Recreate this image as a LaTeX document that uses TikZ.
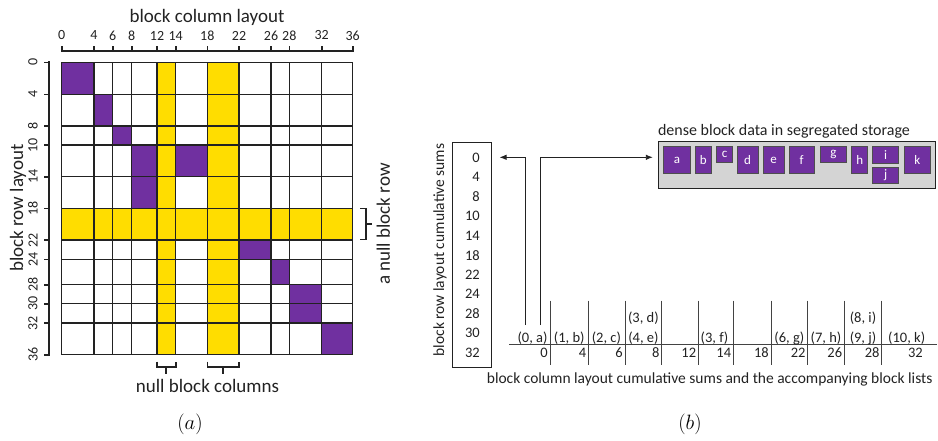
\documentclass[tikz,border=0pt]{standalone}
\usepackage{fontspec}
\setmainfont{Carlito}
\usetikzlibrary{arrows.meta}
\definecolor{purp}{HTML}{7030A0}
\definecolor{yel}{HTML}{FFDD00}
\definecolor{boxgray}{HTML}{D4D4D4}
\definecolor{ink}{HTML}{222222}
\begin{document}
\begin{tikzpicture}[x=1pt,y=-1pt,
  gridline/.style={draw=ink, line width=1.1pt},
  axisline/.style={draw=ink, line width=2pt},
  brack/.style={draw=ink, line width=1.6pt},
  thinline/.style={draw=ink!85, line width=0.9pt},
  purpcell/.style={fill=purp},
  yelcell/.style={fill=yel},
  ticklab/.style={font=\fontsize{14}{16}\selectfont, inner sep=0pt, text=ink},
  biglab/.style={font=\fontsize{19}{22}\selectfont, inner sep=0pt, text=ink},
  midlab/.style={font=\fontsize{15.5}{18}\selectfont, inner sep=0pt, text=ink},
  numlab/.style={font=\fontsize{14.5}{17}\selectfont, inner sep=0pt, text=ink},
  blk/.style={draw=ink!80, line width=0.8pt, fill=purp, text=white, font=\fontsize{13}{15}\selectfont, inner sep=0pt},
  arr/.style={draw=ink, line width=0.9pt, -{Latex[length=7pt,width=5.5pt]}},
  caplab/.style={font=\fontsize{20}{24}\selectfont, inner sep=0pt},
]
\useasboundingbox (0,0) rectangle (938,440);

% ---------- (a) matrix ----------
% yellow null column / row
\fill[yelcell] (157,62.3) rectangle (175.7,354.7);
\fill[yelcell] (207.3,62.3) rectangle (239,354.7);
\fill[yelcell] (61.7,208.3) rectangle (352.7,240);
% purple dense blocks
\fill[purpcell] (61.7,62.3) rectangle (94,94.3);
\fill[purpcell] (94,94.3) rectangle (112.7,126);
\fill[purpcell] (112.7,126) rectangle (131.7,145);
\fill[purpcell] (131.7,145) rectangle (157,176.7);
\fill[purpcell] (131.7,176.7) rectangle (157,208.3);
\fill[purpcell] (175.7,145) rectangle (207.3,176.7);
\fill[purpcell] (239,240) rectangle (271,259.3);
\fill[purpcell] (271,259.3) rectangle (289.3,284.7);
\fill[purpcell] (289.3,284.7) rectangle (321.7,303.7);
\fill[purpcell] (289.3,303.7) rectangle (321.7,323);
\fill[purpcell] (321.7,323) rectangle (352.7,354.7);
% grid
\foreach \x in {61.7,94,112.7,131.7,157,175.7,207.3,239,271,289.3,321.7,352.7}
  \draw[gridline] (\x,62.3) -- (\x,354.7);
\foreach \y in {62.3,94.3,126,145,176.7,208.3,240,259.3,284.7,303.7,323,354.7}
  \draw[gridline] (61.7,\y) -- (352.7,\y);

% top axis
\draw[axisline, line cap=rect] (61.7,50.7) -- (352.7,50.7);
\foreach \x/\l in {61.7/0,94/4,112.7/6,131.7/8,157/12,175.7/14,207.3/18,239/22,271/26,289.3/28,321.7/32,352.7/36}{
  \draw[axisline, line width=1.6pt] (\x,46.3) -- (\x,50.7);
  \node[ticklab] (ct\l) at (\x,35.5) {\l};
}
\node[biglab] (collay) at (207,17) {block column layout};

% left axis
\draw[axisline, line cap=rect] (49,62.3) -- (49,354.7);
\foreach \y/\l in {62.3/0,94.3/4,126/8,145/10,176.7/14,208.3/18,240/22,259.3/24,284.7/28,303.7/30,323/32,354.7/36}{
  \draw[axisline, line width=1.6pt] (44.3,\y) -- (49,\y);
  \node[ticklab, rotate=90] (rt\l) at (33,\y) {\l};
}
\node[biglab, rotate=90] (rowlay) at (18,208) {block row layout};

% null block column brackets
\draw[brack] (156.7,361.7) -- (156.7,366.7) -- (175.7,366.7) -- (175.7,361.7);
\draw[brack] (166.2,366.7) -- (166.2,373.5);
\draw[brack] (207.3,361.7) -- (207.3,366.7) -- (239,366.7) -- (239,361.7);
\draw[brack] (223.2,366.7) -- (223.2,373.5);
\node[biglab] (nbc) at (207.5,386) {null block columns};

% null block row bracket
\draw[brack] (360,208.3) -- (366,208.3) -- (366,239.3) -- (360,239.3);
\draw[brack] (366,224) -- (371.7,224);
\node[biglab, rotate=90] (nbr) at (383.3,224) {a null block row};

\node[caplab] (capa) at (190,424) {$(a)$};
\node[caplab] (capb) at (690,424) {$(b)$};

% ---------- (b) storage ----------
\node[draw=ink, line width=1pt, minimum width=38.7pt, minimum height=225pt, inner sep=0pt] (rowbox) at (471.65,254.8) {};
\foreach \v [count=\i from 0] in {0,4,8,10,14,18,22,24,28,30,32}
  \node[numlab, anchor=east] (rs\i) at (480,{157.7+19.5*\i}) {\v};
\node[midlab, rotate=90] (rowcs) at (440,250) {block row layout cumulative sums};

\node[draw=ink, line width=1pt, fill=boxgray, minimum width=276.7pt, minimum height=46.6pt, inner sep=0pt] (store) at (796.65,165) {};
\node[midlab, font=\fontsize{16}{19}\selectfont] (storet) at (784,131.7) {dense block data in segregated storage};

\node[blk, minimum width=27.4pt, minimum height=26.6pt] (ba) at (677,160) {a};
\node[blk, minimum width=16.7pt, minimum height=26.6pt] (bb) at (703.35,160) {b};
\node[blk, minimum width=16pt, minimum height=16pt] (bc) at (724.7,154.7) {c};
\node[blk, minimum width=20.7pt, minimum height=26.6pt] (bd) at (747.65,160) {d};
\node[blk, minimum width=20.7pt, minimum height=26.6pt] (be) at (773.65,160) {e};
\node[blk, minimum width=24.7pt, minimum height=26.6pt] (bf) at (801.65,160) {f};
\node[blk, minimum width=26.7pt, minimum height=16pt] (bg) at (833.35,154.7) {g};
\node[blk, minimum width=16pt, minimum height=26.6pt] (bh) at (859.7,160) {h};
\node[blk, minimum width=26pt, minimum height=16.6pt] (bi) at (885.7,155) {i};
\node[blk, minimum width=26pt, minimum height=16pt] (bj) at (885.7,175.3) {j};
\node[blk, minimum width=26.7pt, minimum height=26.6pt] (bk) at (917.35,160) {k};

% arrows
\coordinate (lvl) at (0,157.3);
\coordinate (s1) at (525.7,325);
\coordinate (s2) at (540,325);
\draw[arr, shorten >=8pt] (s1) |- (rowbox.east |- lvl);
\draw[arr, shorten >=5pt] (s2) |- (store.west |- lvl);

% column cumulative sums and block lists
\draw[thinline] (509.3,344) -- (936.7,344);
\foreach \x in {550,588.3,625,661.7,698.3,733.3,771,807.7,844.3,881.7}
  \draw[thinline] (\x,300.7) -- (\x,365);
\foreach \x/\l in {550/0,588.3/4,625/6,661.7/8,698.3/12,733.3/14,771/18,807.7/22,844.3/26,881.7/28,925/32}
  \node[numlab, anchor=east] (cs\l) at (\x-2,352.7) {\l};
\node[numlab] (la) at (532.5,338) {(0, a)};
\node[numlab] (lb) at (569.2,338) {(1, b)};
\node[numlab] (lc) at (606.4,338) {(2, c)};
\node[numlab] (ld) at (643.4,318.3) {(3, d)};
\node[numlab] (le) at (643.4,338) {(4, e)};
\node[numlab] (lf) at (714.5,338) {(3, f)};
\node[numlab] (lg) at (789.4,338) {(6, g)};
\node[numlab] (lh) at (826,338) {(7, h)};
\node[numlab] (li) at (863,318.3) {(8, i)};
\node[numlab] (lj) at (863,338) {(9, j)};
\node[numlab] (lk) at (906.7,338) {(10, k)};
\node[midlab] (colcs) at (709.7,379.3) {block column layout cumulative sums and the accompanying block lists};
\end{tikzpicture}
\end{document}
